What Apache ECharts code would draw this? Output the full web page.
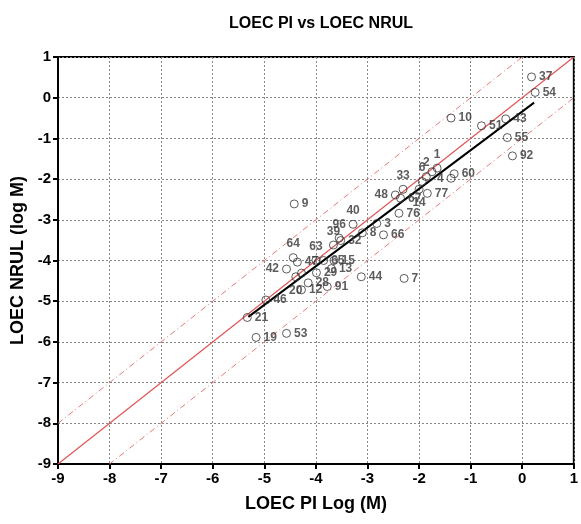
<!DOCTYPE html>
<html>
<head>
<meta charset="utf-8">
<script src="https://cdn.jsdelivr.net/npm/echarts@6/dist/echarts.min.js"></script>
<style>html,body{margin:0;padding:0;background:#fff;}#c{width:581px;height:524px;}</style>
</head>
<body>
<div id="c"></div>
<script>
// Point ids (labels), PI log (x) and NRUL log (y) values
const ids = ['37','54','10','51','43','55','92','1','','2','6','60','4','33','48','67','77','14','76','40','3','8','66','32','39','96','64','63','47','65','15','42','20','','29','13','28','91','12','44','7','46','21','19','53','9'];
const xs  = [0.18,0.25,-1.38,-0.79,-0.32,-0.29,-0.19,-1.65,-1.75,-1.86,-1.94,-1.32,-1.38,-2.31,-2.46,-2.36,-1.84,-2.0,-2.39,-3.28,-2.82,-3.1,-2.69,-3.52,-3.66,-3.55,-4.44,-4.0,-4.36,-3.85,-3.65,-4.57,-4.39,-4.28,-3.99,-3.7,-4.15,-3.78,-4.28,-3.12,-2.29,-4.97,-5.33,-5.16,-4.57,-4.42];
const ys  = [0.51,0.13,-0.5,-0.69,-0.52,-0.98,-1.43,-1.73,-1.82,-1.94,-2.06,-1.87,-1.98,-2.25,-2.39,-2.47,-2.35,-2.25,-2.84,-3.11,-3.09,-3.32,-3.37,-3.51,-3.62,-3.45,-3.93,-3.99,-4.04,-4.0,-4.0,-4.21,-4.4,-4.31,-4.3,-4.2,-4.55,-4.64,-4.72,-4.4,-4.44,-4.97,-5.4,-5.89,-5.79,-2.61];
// Axis ticks
const axisMin = -9, axisMax = 1, tickStep = 1;
// Reference lines: identity (y = x) and +/- 1 log unit bands
const refX = [-9, 1];
const bandOffset = 1;
// Regression line (start / end x, slope, intercept)
const regX = [-5.31, 0.23];
const regSlope = 0.95, regIntercept = -0.34;

// label placement styles (not data)
const labelStyle = {
  '1': {position: 'top', offset: [0, 0]},
  '2': {position: 'top', offset: [-3, 0]},
  '6': {position: 'top', offset: [-8, 0]},
  '4': {position: 'left', offset: [0, 3]},
  '33': {position: 'top', offset: [-3, 0]},
  '48': {position: 'left', offset: [0, 0]},
  '67': {position: 'right', offset: [2, 7]},
  '14': {position: 'bottom', offset: [12, 2]},
  '76': {position: 'right', offset: [0, 7]},
  '40': {position: 'top', offset: [-3, 0]},
  '39': {position: 'top', offset: [-10, 2]},
  '96': {position: 'top', offset: [-4, -2]},
  '64': {position: 'top', offset: [0, 0]},
  '63': {position: 'top', offset: [-5, 0]},
  '15': {position: 'right', offset: [3, -4]},
  '42': {position: 'left', offset: [0, 0]},
  '20': {position: 'bottom', offset: [8, -2]},
  '28': {position: 'right', offset: [0, 3]},
  '91': {position: 'right', offset: [0, 5]},
  '12': {position: 'right', offset: [0, 4]},
  '46': {position: 'right', offset: [2, 5]},
  '21': {position: 'right', offset: [0, 5]},
  '13': {position: 'right', offset: [12, -2]}
};

const pts = ids.map((id, i) => {
  const s = labelStyle[id] || {position: 'right', offset: [0, 0]};
  return {name: id, value: [xs[i], ys[i]], label: {show: id !== '', formatter: id, position: s.position, offset: s.offset}};
});
const lineData = off => refX.map(x => [x, x + off]);
const regData = regX.map(x => [x, regSlope * x + regIntercept]);

const FONT = 'Liberation Sans, Arial, sans-serif';
const axisCommon = {
  type: 'value', min: axisMin, max: axisMax, interval: tickStep,
  axisLine: {show: true, onZero: false, lineStyle: {color: '#000', width: 2}},
  axisTick: {show: true, inside: false, length: 5, lineStyle: {color: '#000', width: 2}},
  axisLabel: {color: '#000', fontWeight: 'bold', fontSize: 15, fontFamily: FONT, margin: 7},
  splitLine: {show: true, lineStyle: {color: '#888', type: [2, 2], width: 1}},
  nameLocation: 'middle',
  nameTextStyle: {color: '#000', fontWeight: 'bold', fontSize: 18, fontFamily: FONT}
};

const chart = echarts.init(document.getElementById('c'), null, {renderer: 'canvas'});
chart.setOption({
  animation: false,
  backgroundColor: '#fff',
  title: {
    text: 'LOEC PI vs LOEC NRUL', left: 316, top: 11, textAlign: 'center',
    textStyle: {color: '#000', fontWeight: 'bold', fontSize: 16, fontFamily: FONT}
  },
  grid: {left: 58, right: 5, top: 57, bottom: 60, show: true, borderColor: '#000', borderWidth: 2, backgroundColor: '#fff'},
  xAxis: Object.assign({}, axisCommon, {name: 'LOEC PI Log (M)', nameGap: 31}),
  yAxis: Object.assign({}, axisCommon, {name: 'LOEC NRUL (log M)', nameGap: 27}),
  series: [
    {type: 'line', data: lineData(0), symbol: 'none', lineStyle: {color: '#e05555', width: 1.2}, z: 2},
    {type: 'line', data: lineData(bandOffset), symbol: 'none', lineStyle: {color: '#e87878', width: 1, type: [6, 3, 1, 3]}, z: 2},
    {type: 'line', data: lineData(-bandOffset), symbol: 'none', lineStyle: {color: '#e87878', width: 1, type: [6, 3, 1, 3]}, z: 2},
    {type: 'line', data: regData, symbol: 'none', lineStyle: {color: '#000', width: 2}, z: 3},
    {
      type: 'scatter', data: pts, symbol: 'circle', symbolSize: 8, z: 4,
      itemStyle: {color: 'rgba(255,255,255,0)', borderColor: '#333', borderWidth: 1},
      label: {color: '#333', fontSize: 12, fontWeight: 'bold', fontFamily: FONT, distance: 3},
      labelLayout: {hideOverlap: false}
    }
  ]
});
</script>
</body>
</html>
